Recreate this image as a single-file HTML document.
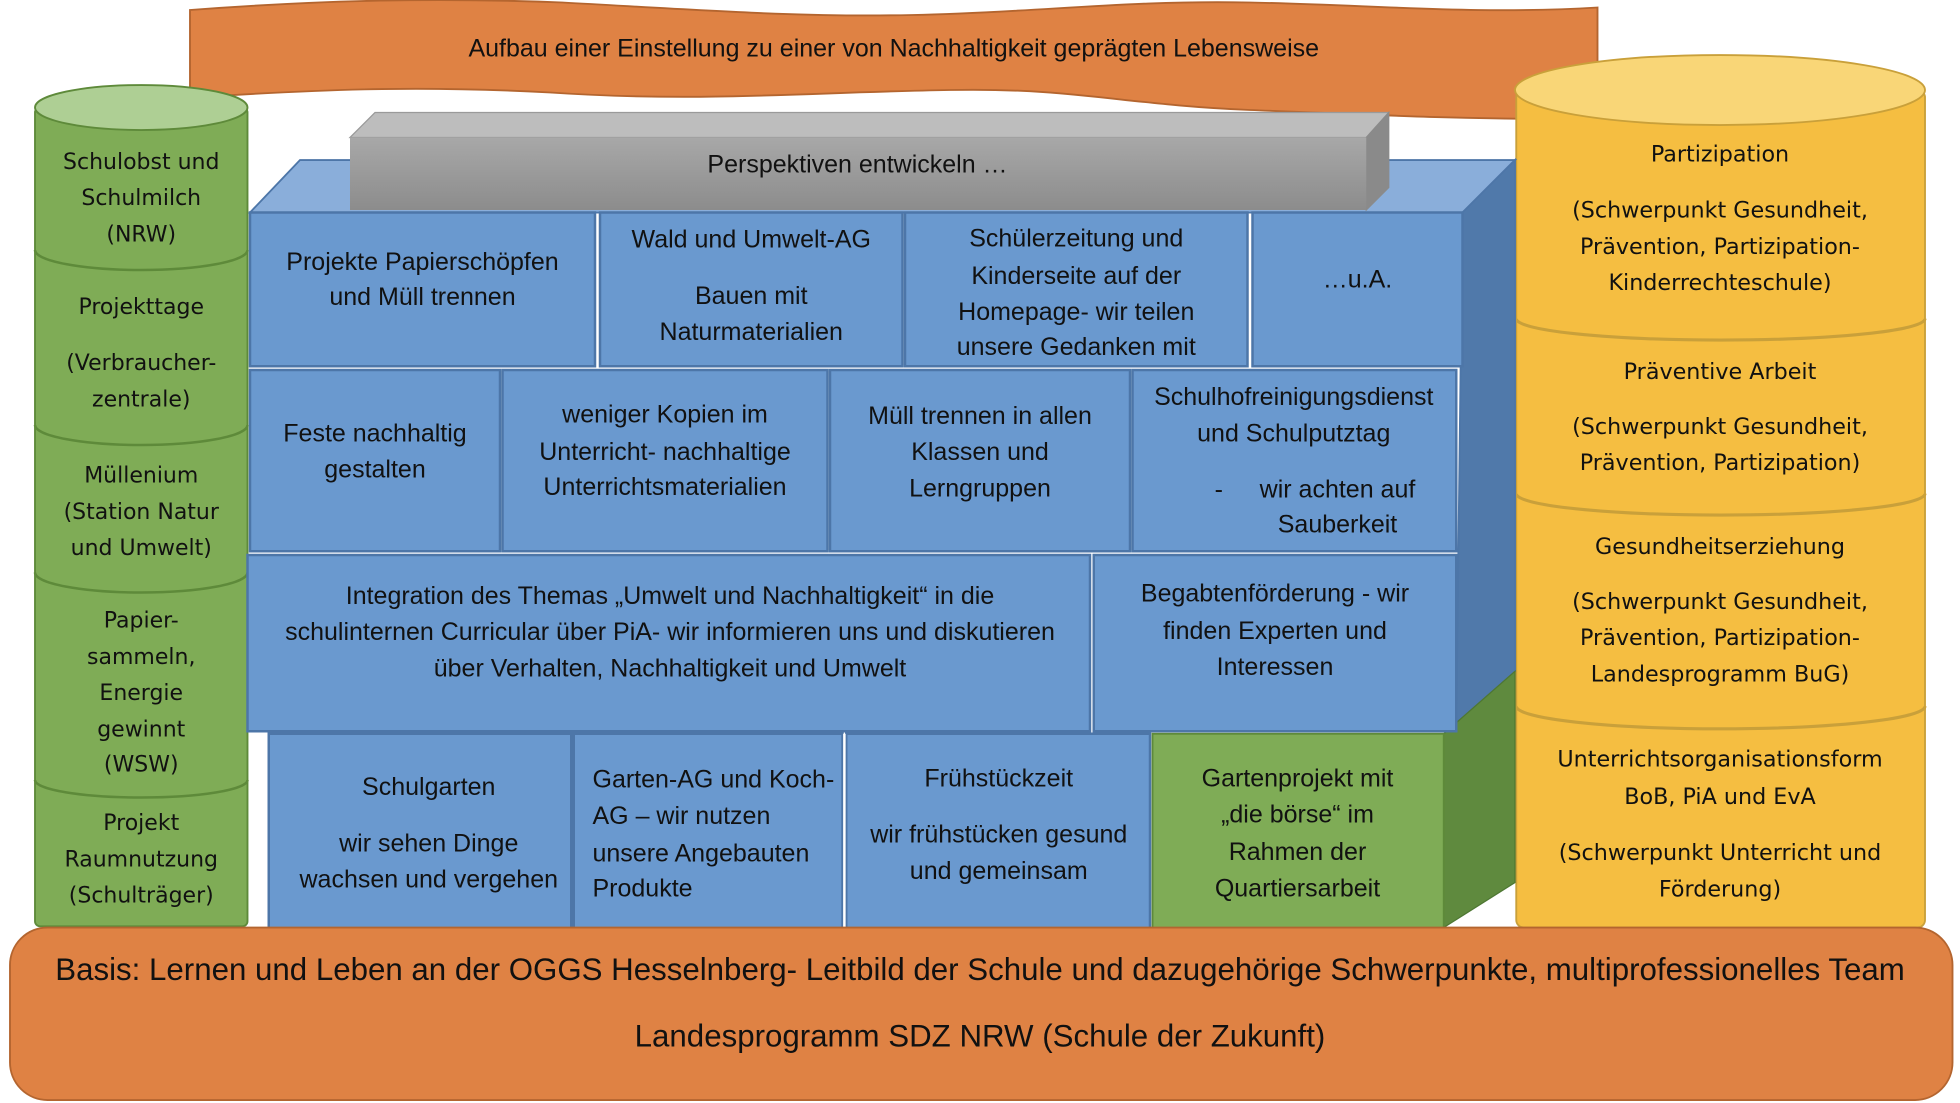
<!DOCTYPE html>
<html><head><meta charset="utf-8"><style>
html,body{margin:0;padding:0;background:#fff;width:1960px;height:1103px;overflow:hidden}
svg{display:block}
.c{font-family:"Liberation Sans",sans-serif;font-size:20px;fill:#111;text-anchor:middle}
.l{font-family:"Liberation Sans",sans-serif;font-size:20px;fill:#111}
.d{font-family:"DejaVu Sans",sans-serif;font-size:17.8px;fill:#111;text-anchor:middle}
.g{font-family:"DejaVu Sans",sans-serif;font-size:17.6px;fill:#111;text-anchor:middle}
</style></head><body>
<svg width="1960" height="1103" viewBox="0 0 1568 882.4" xmlns="http://www.w3.org/2000/svg">
<!-- banner -->
<path d="M152,8 C260,0 350,-2 450,2 C560,8 640,14 730,12 C830,10 900,0 1000,2 C1100,4 1180,12 1278,6 L1278,95 C1180,96 1100,92 1000,88 C900,84 860,70 760,72 C640,74 560,82 440,74 C330,68 250,72 152,78 Z" fill="#DF8244" stroke="#B4652F" stroke-width="1.5"/>
<text class="c" x="715" y="45">Aufbau einer Einstellung zu einer von Nachhaltigkeit geprägten Lebensweise</text>

<!-- left cylinder -->
<rect x="28" y="86" width="170" height="655" rx="4" fill="#7FAC56" stroke="#5E8A3A" stroke-width="1.5"/>
<ellipse cx="113" cy="86" rx="85" ry="18" fill="#AECF94" stroke="#5E8A3A" stroke-width="1.5"/>
<g fill="none" stroke="#5E8A3A" stroke-width="2">
<path d="M28,200 A85,16 0 0 0 198,200"/>
<path d="M28,340 A85,16 0 0 0 198,340"/>
<path d="M28,458 A85,16 0 0 0 198,458"/>
<path d="M28,624 A85,14 0 0 0 198,624"/>
</g>
<g class="g">
<text x="113" y="135">Schulobst und</text><text x="113" y="164">Schulmilch</text><text x="113" y="193">(NRW)</text>
<text x="113" y="251">Projekttage</text><text x="113" y="296">(Verbraucher-</text><text x="113" y="325">zentrale)</text>
<text x="113" y="386">Müllenium</text><text x="113" y="415">(Station Natur</text><text x="113" y="444">und Umwelt)</text>
<text x="113" y="502">Papier-</text><text x="113" y="531">sammeln,</text><text x="113" y="560">Energie</text><text x="113" y="589">gewinnt</text><text x="113" y="617">(WSW)</text>
<text x="113" y="664">Projekt</text><text x="113" y="693">Raumnutzung</text><text x="113" y="722">(Schulträger)</text>
</g>

<!-- right cylinder -->
<rect x="1213" y="72" width="327" height="670" rx="6" fill="#F5BE41" stroke="#C9A03A" stroke-width="1.5"/>
<ellipse cx="1376" cy="72" rx="164" ry="28" fill="#F9D677" stroke="#C9A03A" stroke-width="1.5"/>
<g fill="none" stroke="#C9A03A" stroke-width="2.5">
<path d="M1213,255 A163,17 0 0 0 1540,255"/>
<path d="M1213,395 A163,17 0 0 0 1540,395"/>
<path d="M1213,565 A163,18 0 0 0 1540,565"/>
</g>
<g class="d">
<text x="1376" y="129">Partizipation</text><text x="1376" y="174">(Schwerpunkt Gesundheit,</text><text x="1376" y="203">Prävention, Partizipation-</text><text x="1376" y="232">Kinderrechteschule)</text>
<text x="1376" y="303">Präventive Arbeit</text><text x="1376" y="347">(Schwerpunkt Gesundheit,</text><text x="1376" y="376">Prävention, Partizipation)</text>
<text x="1376" y="443">Gesundheitserziehung</text><text x="1376" y="487">(Schwerpunkt Gesundheit,</text><text x="1376" y="516">Prävention, Partizipation-</text><text x="1376" y="545">Landesprogramm BuG)</text>
<text x="1376" y="613">Unterrichtsorganisationsform</text><text x="1376" y="643">BoB, PiA und EvA</text><text x="1376" y="688">(Schwerpunkt Unterricht und</text><text x="1376" y="717">Förderung)</text>
</g>

<!-- blue block top and right faces -->
<polygon points="200,170 240,128 1212,128 1170,170" fill="#8AAEDA" stroke="#4D76A8" stroke-width="1.5"/>
<polygon points="1170,170 1212,128 1212,537 1165,585" fill="#5079AA" stroke="#4D76A8" stroke-width="1.5"/>
<polygon points="1155,587 1212,537 1212,706 1155,742" fill="#5F8A3E" stroke="#4E7733" stroke-width="1"/>

<!-- gray box -->
<defs><linearGradient id="gr" x1="0" y1="0" x2="0" y2="1"><stop offset="0" stop-color="#A8A8A8"/><stop offset="1" stop-color="#8C8C8C"/></linearGradient></defs>
<polygon points="280,110 300,90 1111,90 1093,110" fill="#BDBDBD" stroke="#9A9A9A"/>
<polygon points="1093,110 1111,90 1111,150 1093,168" fill="#8A8A8A" stroke="#8A8A8A"/>
<rect x="280" y="110" width="813" height="58" fill="url(#gr)"/>
<text class="c" x="686" y="138">Perspektiven entwickeln …</text>

<!-- cells -->
<g fill="#6A99CF" stroke="#4D76A8" stroke-width="2">
<rect x="200" y="170" width="276" height="123"/><rect x="480" y="170" width="242" height="123"/><rect x="724" y="170" width="274" height="123"/><rect x="1002" y="170" width="168" height="123"/>
<rect x="200" y="296" width="200" height="145"/><rect x="402" y="296" width="260" height="145"/><rect x="664" y="296" width="240" height="145"/><rect x="906" y="296" width="259" height="145"/>
<rect x="198" y="444" width="674" height="141"/><rect x="875" y="444" width="290" height="141"/>
<rect x="215" y="587" width="242" height="156"/><rect x="459" y="587" width="215" height="156"/><rect x="677" y="587" width="243" height="156"/>
</g>
<rect x="922" y="587" width="233" height="156" fill="#7FAC56" stroke="#5E8A3A" stroke-width="1.5"/>
<line x1="675.5" y1="587" x2="675.5" y2="743" stroke="#fff" stroke-width="2"/>

<g class="c">
<text x="338" y="216">Projekte Papierschöpfen</text><text x="338" y="244">und Müll trennen</text>
<text x="601" y="198">Wald und Umwelt-AG</text><text x="601" y="243">Bauen mit</text><text x="601" y="272">Naturmaterialien</text>
<text x="861" y="197">Schülerzeitung und</text><text x="861" y="227">Kinderseite auf der</text><text x="861" y="256">Homepage- wir teilen</text><text x="861" y="284">unsere Gedanken mit</text>
<text x="1086" y="230">…u.A.</text>
<text x="300" y="353">Feste nachhaltig</text><text x="300" y="382">gestalten</text>
<text x="532" y="338">weniger Kopien im</text><text x="532" y="368">Unterricht- nachhaltige</text><text x="532" y="396">Unterrichtsmaterialien</text>
<text x="784" y="339">Müll trennen in allen</text><text x="784" y="368">Klassen und</text><text x="784" y="397">Lerngruppen</text>
<text x="1035" y="324">Schulhofreinigungsdienst</text><text x="1035" y="353">und Schulputztag</text>
<text x="975" y="398">-</text><text x="1070" y="398">wir achten auf</text><text x="1070" y="426">Sauberkeit</text>
<text x="536" y="483">Integration des Themas „Umwelt und Nachhaltigkeit“ in die</text><text x="536" y="512">schulinternen Curricular über PiA-  wir informieren uns und diskutieren</text><text x="536" y="541">über Verhalten, Nachhaltigkeit und Umwelt</text>
<text x="1020" y="481">Begabtenförderung -  wir</text><text x="1020" y="511">finden Experten und</text><text x="1020" y="540">Interessen</text>
<text x="343" y="636">Schulgarten</text><text x="343" y="681">wir sehen Dinge</text><text x="343" y="710">wachsen und vergehen</text>
<text x="799" y="629">Frühstückzeit</text><text x="799" y="674">wir frühstücken gesund</text><text x="799" y="703">und gemeinsam</text>
<text x="1038" y="629">Gartenprojekt mit</text><text x="1038" y="658">„die börse“ im</text><text x="1038" y="688">Rahmen der</text><text x="1038" y="717">Quartiersarbeit</text>
</g>
<g class="l">
<text x="474" y="630">Garten-AG und Koch-</text><text x="474" y="659">AG – wir nutzen</text><text x="474" y="689">unsere Angebauten</text><text x="474" y="717">Produkte</text>
</g>

<!-- base -->
<rect x="8" y="742" width="1554" height="138" rx="30" fill="#DF8244" stroke="#B4652F" stroke-width="1.5"/>
<text class="c" x="784" y="784" style="font-size:25px">Basis: Lernen und Leben an der OGGS Hesselnberg- Leitbild der Schule und dazugehörige Schwerpunkte, multiprofessionelles Team</text>
<text class="c" x="784" y="837" style="font-size:25px">Landesprogramm SDZ NRW (Schule der Zukunft)</text>
</svg>
</body></html>
